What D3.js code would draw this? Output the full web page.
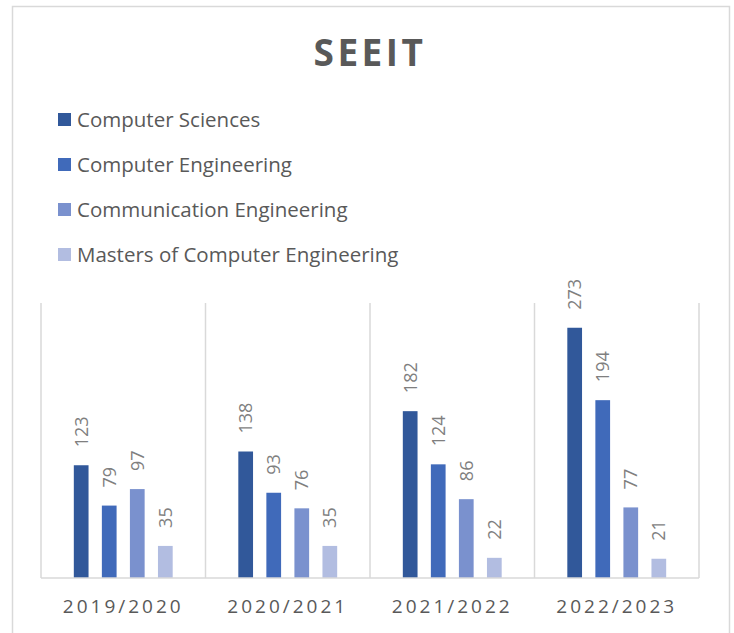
<!DOCTYPE html>
<html>
<head>
<meta charset="utf-8">
<script src="https://cdn.jsdelivr.net/npm/d3@7"></script>
<style>
  body { margin: 0; background: #fff; }
  svg { display: block; font-family: 'Open Sans', sans-serif; }
</style>
</head>
<body>
<div id="chart"></div>
<script>
// chart data
const years = ['2019/2020', '2020/2021', '2021/2022', '2022/2023'];
const programs = ['Computer Sciences', 'Computer Engineering', 'Communication Engineering', 'Masters of Computer Engineering'];
const compSci = [123, 138, 182, 273];
const compEng = [79, 93, 124, 194];
const commEng = [97, 76, 86, 77];
const mastersCompEng = [35, 35, 22, 21];
const colors = ['#31589A', '#406ABA', '#7A91CE', '#B2BDE1'];

const seriesValues = [compSci, compEng, commEng, mastersCompEng];
const rows = years.map((y, i) => ({
  year: y,
  vals: programs.map((p, j) => ({ program: p, value: seriesValues[j][i] }))
}));

const width = 734, height = 633;
const svg = d3.select('#chart').append('svg')
  .attr('width', width)
  .attr('height', height);

// outer frame
svg.append('rect')
  .attr('x', 12.5).attr('y', 6.5)
  .attr('width', 717).attr('height', 640)
  .attr('fill', '#fff')
  .attr('stroke', '#d9d9d9')
  .attr('stroke-width', 1.5);

// title
svg.append('text')
  .attr('x', 370)
  .attr('y', 65.5)
  .attr('text-anchor', 'middle')
  .attr('fill', '#595959')
  .style('font-size', '37px')
  .style('font-weight', 'bold')
  .style('letter-spacing', '3.5px')
  .text('SEEIT');

// legend
const legend = svg.append('g').attr('transform', 'translate(58,113)');
const li = legend.selectAll('g').data(programs).enter().append('g')
  .attr('transform', (d, i) => 'translate(0,' + i * 45 + ')');
li.append('rect')
  .attr('width', 13).attr('height', 13)
  .attr('fill', (d, i) => colors[i]);
li.append('text')
  .attr('x', 19).attr('y', 13.5)
  .attr('fill', '#595959')
  .style('font-size', '20.5px')
  .text(d => d);

// scales
const margin = { left: 41, right: 699, top: 303, bottom: 578 };
const x0 = d3.scaleBand().domain(years).range([margin.left, margin.right]);
const x1 = d3.scaleBand().domain(programs)
  .range([0, x0.bandwidth()])
  .paddingInner(0.475)
  .paddingOuter(1.17);
const y = d3.scaleLinear().domain([0, 300]).range([margin.bottom, margin.top]);

// category separators
svg.append('g').selectAll('line')
  .data(d3.range(years.length + 1))
  .enter().append('line')
  .attr('x1', i => margin.left + i * x0.step())
  .attr('x2', i => margin.left + i * x0.step())
  .attr('y1', margin.top).attr('y2', margin.bottom)
  .attr('stroke', '#d9d9d9').attr('stroke-width', 1.5);

// bars
const groups = svg.append('g').selectAll('g')
  .data(rows).enter().append('g')
  .attr('transform', d => 'translate(' + x0(d.year) + ',0)');

groups.selectAll('rect')
  .data(d => d.vals).enter().append('rect')
  .attr('x', d => x1(d.program))
  .attr('y', d => y(d.value))
  .attr('width', x1.bandwidth())
  .attr('height', d => y(0) - y(d.value))
  .attr('fill', (d, i) => colors[i]);

// value labels
groups.selectAll('text')
  .data(d => d.vals).enter().append('text')
  .attr('transform', d => 'translate(' + (x1(d.program) + x1.bandwidth() / 2) + ',' + (y(d.value) - 18) + ') rotate(-90)')
  .attr('dy', '0.36em')
  .attr('fill', '#7f7f7f')
  .style('font-size', '18px')
  .text(d => d.value);

// axis baseline
svg.append('line')
  .attr('x1', margin.left).attr('x2', margin.right)
  .attr('y1', margin.bottom).attr('y2', margin.bottom)
  .attr('stroke', '#d9d9d9').attr('stroke-width', 1.5);

// category labels
svg.append('g').selectAll('text')
  .data(years).enter().append('text')
  .attr('x', d => x0(d) + x0.bandwidth() / 2)
  .attr('y', 613)
  .attr('text-anchor', 'middle')
  .attr('fill', '#595959')
  .style('font-size', '19px')
  .style('letter-spacing', '3px')
  .text(d => d);
</script>
</body>
</html>
